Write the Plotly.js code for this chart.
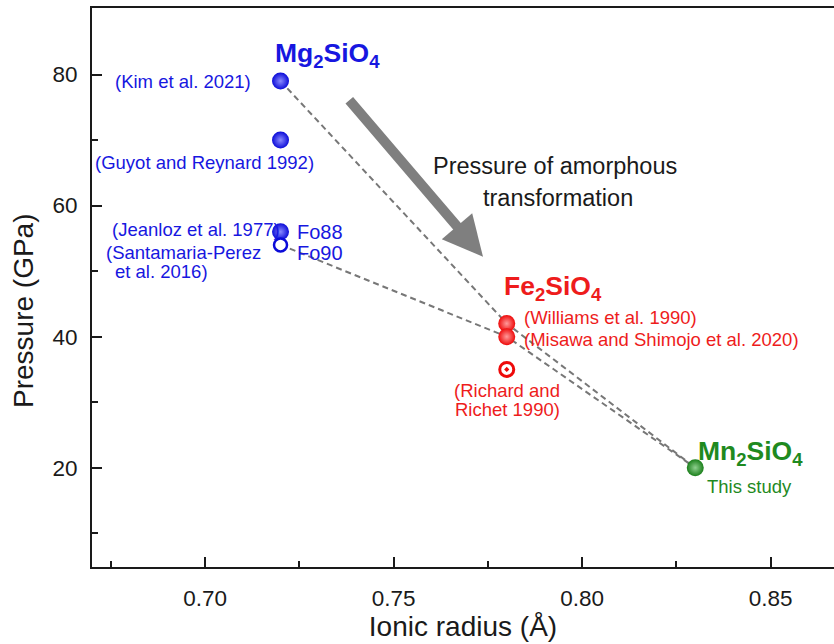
<!DOCTYPE html>
<html>
<head>
<meta charset="utf-8">
<script src="https://cdn.plot.ly/plotly-3.0.1.min.js"></script>
<style>html,body{margin:0;padding:0;background:#fff;}#chart{width:834px;height:644px;}</style>
</head>
<body>
<div id="chart"></div>
<script>
// ---- data ----
const mgRadius = [0.72, 0.72, 0.72];
const mgPressure = [79, 70, 56];          // Kim 2021, Guyot & Reynard 1992, Jeanloz 1977 (Fo88)
const mgOpenRadius = [0.72];
const mgOpenPressure = [54];              // Santamaria-Perez 2016 (Fo90)
const feRadius = [0.78, 0.78];
const fePressure = [42, 40];              // Williams 1990, Misawa & Shimojo 2020
const feDotRadius = [0.78];
const feDotPressure = [35];               // Richard & Richet 1990
const mnRadius = [0.83];
const mnPressure = [20];                  // This study
const trendUpperX = [0.72, 0.78, 0.83];
const trendUpperY = [79, 42, 20];
const trendLowerX = [0.72, 0.78, 0.83];
const trendLowerY = [54, 40, 20];
const xTickVals = [0.70, 0.75, 0.80, 0.85];
const xTickText = ["0.70", "0.75", "0.80", "0.85"];
const yTickVals = [20, 40, 60, 80];
const yTickText = ["20", "40", "60", "80"];

const BLUE = "#1717e0", RED = "#ee1c1c", GREEN = "#1f8a1f";
const FONT = "Liberation Sans, Arial, sans-serif";

const traces = [
  {x: trendUpperX, y: trendUpperY, mode: "lines", line: {color: "#777", width: 2, dash: "6px,4px"}, hoverinfo: "skip"},
  {x: trendLowerX, y: trendLowerY, mode: "lines", line: {color: "#777", width: 2, dash: "6px,4px"}, hoverinfo: "skip"},
  {x: mgRadius, y: mgPressure, mode: "markers",
   marker: {size: 17, color: "#0b0bd8", gradient: {type: "radial", color: "#8a8aff"}, line: {width: 0}}},
  {x: mgOpenRadius, y: mgOpenPressure, mode: "markers",
   marker: {size: 13, color: "#fff", line: {color: "#0b0bd8", width: 2.5}}},
  {x: feRadius, y: fePressure, mode: "markers",
   marker: {size: 17, color: "#ee0a0a", gradient: {type: "radial", color: "#ff9a9a"}, line: {width: 0}}},
  {x: feDotRadius, y: feDotPressure, mode: "markers",
   marker: {size: 14, symbol: "circle-open-dot", color: "#ee0a0a", line: {color: "#ee0a0a", width: 3}}},
  {x: mnRadius, y: mnPressure, mode: "markers",
   marker: {size: 17, color: "#1a7f1a", gradient: {type: "radial", color: "#8fd08f"}, line: {width: 0}}}
];

function txt(text, x, y, color, size, xanchor, bold) {
  return {x: x, y: y, xref: "x", yref: "y", text: bold ? "<b>" + text + "</b>" : text,
    showarrow: false, xanchor: xanchor, yanchor: "middle",
    font: {family: FONT, size: size, color: color}};
}

const annotations = [
  txt("Mg<sub>2</sub>SiO<sub>4</sub>", 0.718, 83.0, BLUE, 26.5, "left", true),
  txt("(Kim et al. 2021)", 0.7127, 79.0, BLUE, 18.5, "right"),
  txt("(Guyot and Reynard 1992)", 0.6703, 66.5, BLUE, 18.5, "left"),
  txt("(Jeanloz et al. 1977)", 0.7205, 56.3, BLUE, 18.5, "right"),
  txt("Fo88", 0.7238, 56.0, BLUE, 20, "left"),
  txt("Fo90", 0.7238, 52.8, BLUE, 20, "left"),
  txt("(Santamaria-Perez", 0.6732, 52.9, BLUE, 18.5, "left"),
  txt("et al. 2016)", 0.6756, 49.9, BLUE, 18.5, "left"),
  txt("Pressure of amorphous", 0.7928, 66.0, "#1a1a1a", 23.5, "center"),
  txt("transformation", 0.7936, 61.1, "#1a1a1a", 23.5, "center"),
  txt("Fe<sub>2</sub>SiO<sub>4</sub>", 0.7788, 47.4, RED, 26.5, "left", true),
  txt("(Williams et al. 1990)", 0.7841, 42.85, RED, 18.5, "left"),
  txt("(Misawa and Shimojo et al. 2020)", 0.7841, 39.6, RED, 18.5, "left"),
  txt("(Richard and", 0.7801, 31.8, RED, 18.5, "center"),
  txt("Richet 1990)", 0.7801, 28.9, RED, 18.5, "center"),
  txt("Mn<sub>2</sub>SiO<sub>4</sub>", 0.8302, 22.2, GREEN, 26.5, "left", true),
  txt("This study", 0.8326, 17.06, GREEN, 18.5, "left"),
  {x: 0.7737, y: 52.2, ax: 0.7379, ay: 76.3, xref: "x", yref: "y", axref: "x", ayref: "y",
   text: "", showarrow: true, arrowhead: 2, arrowsize: 0.8, arrowwidth: 10, arrowcolor: "#7f7f7f"},
  {x: -0.0916, y: 0.458, xref: "paper", yref: "paper", text: "Pressure (GPa)", textangle: -90,
   showarrow: false, xanchor: "center", yanchor: "middle",
   font: {family: FONT, size: 28, color: "#1a1a1a"}}
];

const axisCommon = {
  showline: true, linecolor: "#1a1a1a", linewidth: 2,
  ticks: "inside", ticklen: 10, tickwidth: 2, tickcolor: "#1a1a1a",
  showgrid: false, zeroline: false,
  tickfont: {family: FONT, size: 22.5, color: "#1a1a1a"}
};

const layout = {
  width: 834, height: 644,
  margin: {l: 92, r: 0, t: 8, b: 77},
  paper_bgcolor: "#fff", plot_bgcolor: "#fff",
  showlegend: false,
  xaxis: Object.assign({}, axisCommon, {
    range: [0.67, 0.8668], mirror: true,
    tickvals: xTickVals, ticktext: xTickText,
    minor: {ticks: "inside", ticklen: 6, tickwidth: 2, tickcolor: "#1a1a1a", dtick: 0.025, tick0: 0.675},
    ticklabelstandoff: 10,
    title: {text: "Ionic radius (Å)", font: {family: FONT, size: 28, color: "#1a1a1a"}, standoff: 6}
  }),
  yaxis: Object.assign({}, axisCommon, {
    range: [4.85, 90.15],
    tickvals: yTickVals, ticktext: yTickText,
    minor: {ticks: "inside", ticklen: 6, tickwidth: 2, tickcolor: "#1a1a1a", dtick: 10, tick0: 0},
    ticklabelstandoff: 8
  }),
  annotations: annotations
};

Plotly.newPlot("chart", traces, layout, {staticPlot: true, displayModeBar: false});
</script>
</body>
</html>
